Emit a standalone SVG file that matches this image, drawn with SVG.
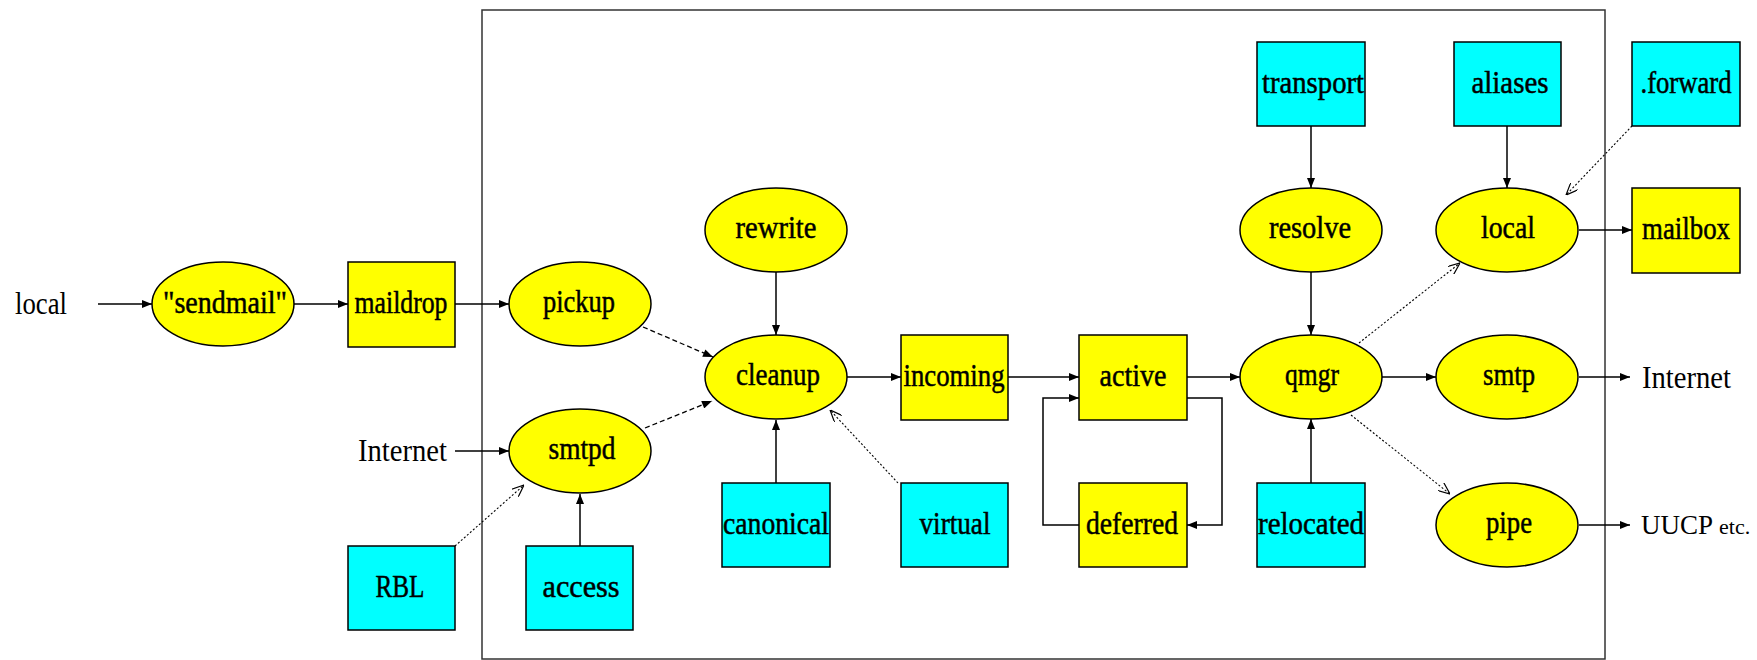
<svg xmlns="http://www.w3.org/2000/svg" width="1757" height="660" viewBox="0 0 1757 660">
<defs>
<style>
.bg{fill:#fff}
.frame{fill:none;stroke:#333;stroke-width:1.5}
.proc{fill:#ffff00;stroke:#000;stroke-width:1.5}
.file{fill:#ffff00;stroke:#000;stroke-width:1.5}
.table{fill:#00ffff;stroke:#000;stroke-width:1.5}
.lbl{font-family:"Liberation Serif","Times New Roman",serif;font-size:32px;fill:#000;stroke:#000;stroke-width:0.5;text-anchor:middle}
.out{font-family:"Liberation Serif","Times New Roman",serif;font-size:32px;fill:#000}
.edge{fill:none;stroke:#000;stroke-width:1.5}
.dash{fill:none;stroke:#000;stroke-width:1.3;stroke-dasharray:5 3}
.dot{fill:none;stroke:#000;stroke-width:1.1;stroke-dasharray:2 2}
</style>
<marker id="a" viewBox="0 0 10 8" refX="10" refY="4" markerWidth="11" markerHeight="8" markerUnits="userSpaceOnUse" orient="auto">
<path d="M0,0 L10,4 L0,8 Z" fill="#000"/>
</marker>
<marker id="o" viewBox="0 0 12 10" refX="12" refY="5" markerWidth="12" markerHeight="10" markerUnits="userSpaceOnUse" orient="auto">
<path d="M0,0 L12,5 L0,10" fill="none" stroke="#000" stroke-width="1.2"/>
</marker>
</defs>
<rect class="bg" x="0" y="0" width="1757" height="660"/>
<rect id="frame" class="frame" x="482" y="10" width="1123" height="649"/>

<g id="connectors">
<path class="edge" d="M98,304 H152" marker-end="url(#a)"/>
<path class="edge" d="M294,304 H348" marker-end="url(#a)"/>
<path class="edge" d="M455,304 H509" marker-end="url(#a)"/>
<path class="edge" d="M455,451 H509" marker-end="url(#a)"/>
<path class="dash" d="M643,327 L713,357" marker-end="url(#a)"/>
<path class="dash" d="M645,428 L712,401" marker-end="url(#a)"/>
<path class="dot" d="M455,546 L524,485" marker-end="url(#o)"/>
<path class="edge" d="M580,546 V494" marker-end="url(#a)"/>
<path class="edge" d="M776,272 V335" marker-end="url(#a)"/>
<path class="edge" d="M776,483 V420" marker-end="url(#a)"/>
<path class="dot" d="M898,483 L830,410" marker-end="url(#o)"/>
<path class="edge" d="M847,377 H901" marker-end="url(#a)"/>
<path class="edge" d="M1008,377 H1079" marker-end="url(#a)"/>
<path class="edge" d="M1187,377 H1240" marker-end="url(#a)"/>
<path class="edge" d="M1187,398 H1222 V525 H1187" marker-end="url(#a)"/>
<path class="edge" d="M1079,525 H1043 V398 H1079" marker-end="url(#a)"/>
<path class="edge" d="M1311,126 V188" marker-end="url(#a)"/>
<path class="edge" d="M1311,272 V335" marker-end="url(#a)"/>
<path class="edge" d="M1311,483 V419" marker-end="url(#a)"/>
<path class="edge" d="M1507,126 V188" marker-end="url(#a)"/>
<path class="dot" d="M1632,126 L1566,195" marker-end="url(#o)"/>
<path class="dot" d="M1359,343 L1460,263" marker-end="url(#o)"/>
<path class="edge" d="M1579,230 H1632" marker-end="url(#a)"/>
<path class="edge" d="M1382,377 H1436" marker-end="url(#a)"/>
<path class="dot" d="M1351,415 L1450,494" marker-end="url(#o)"/>
<path class="edge" d="M1579,377 H1630" marker-end="url(#a)"/>
<path class="edge" d="M1579,525 H1630" marker-end="url(#a)"/>
</g>

<g id="label-local-in"><text class="out" x="15" y="314" textLength="52" lengthAdjust="spacingAndGlyphs">local</text></g>
<g id="label-internet-in"><text class="out" x="358" y="461" textLength="89" lengthAdjust="spacingAndGlyphs">Internet</text></g>
<g id="label-internet-out"><text class="out" x="1642" y="388" textLength="89" lengthAdjust="spacingAndGlyphs">Internet</text></g>
<g id="label-uucp"><text class="out" x="1641" y="534" style="font-size:27px">UUCP<tspan x="1719" style="font-size:22px">etc.</tspan></text></g>

<g id="sendmail"><ellipse class="proc" cx="223" cy="304" rx="71" ry="42"/><text class="lbl" x="225" y="313" textLength="124" lengthAdjust="spacingAndGlyphs">"sendmail"</text></g>
<g id="maildrop"><rect class="file" x="348" y="262" width="107" height="85"/><text class="lbl" x="401" y="313" textLength="93" lengthAdjust="spacingAndGlyphs">maildrop</text></g>
<g id="pickup"><ellipse class="proc" cx="580" cy="304" rx="71" ry="42"/><text class="lbl" x="579" y="312" textLength="72" lengthAdjust="spacingAndGlyphs">pickup</text></g>
<g id="smtpd"><ellipse class="proc" cx="580" cy="451" rx="71" ry="42"/><text class="lbl" x="582" y="459" textLength="67" lengthAdjust="spacingAndGlyphs">smtpd</text></g>
<g id="RBL"><rect class="table" x="348" y="546" width="107" height="84"/><text class="lbl" x="400" y="597" textLength="49" lengthAdjust="spacingAndGlyphs">RBL</text></g>
<g id="access"><rect class="table" x="526" y="546" width="107" height="84"/><text class="lbl" x="581" y="597" textLength="77" lengthAdjust="spacingAndGlyphs">access</text></g>
<g id="rewrite"><ellipse class="proc" cx="776" cy="230" rx="71" ry="42"/><text class="lbl" x="776" y="238" textLength="81" lengthAdjust="spacingAndGlyphs">rewrite</text></g>
<g id="cleanup"><ellipse class="proc" cx="776" cy="377" rx="71" ry="42"/><text class="lbl" x="778" y="385" textLength="84" lengthAdjust="spacingAndGlyphs">cleanup</text></g>
<g id="canonical"><rect class="table" x="722" y="483" width="108" height="84"/><text class="lbl" x="776" y="534" textLength="106" lengthAdjust="spacingAndGlyphs">canonical</text></g>
<g id="incoming"><rect class="file" x="901" y="335" width="107" height="85"/><text class="lbl" x="954" y="386" textLength="101" lengthAdjust="spacingAndGlyphs">incoming</text></g>
<g id="virtual"><rect class="table" x="901" y="483" width="107" height="84"/><text class="lbl" x="955" y="534" textLength="71" lengthAdjust="spacingAndGlyphs">virtual</text></g>
<g id="active"><rect class="file" x="1079" y="335" width="108" height="85"/><text class="lbl" x="1133" y="386" textLength="67" lengthAdjust="spacingAndGlyphs">active</text></g>
<g id="deferred"><rect class="file" x="1079" y="483" width="108" height="84"/><text class="lbl" x="1132" y="534" textLength="92" lengthAdjust="spacingAndGlyphs">deferred</text></g>
<g id="transport"><rect class="table" x="1257" y="42" width="108" height="84"/><text class="lbl" x="1313" y="93" textLength="102" lengthAdjust="spacingAndGlyphs">transport</text></g>
<g id="resolve"><ellipse class="proc" cx="1311" cy="230" rx="71" ry="42"/><text class="lbl" x="1310" y="238" textLength="82" lengthAdjust="spacingAndGlyphs">resolve</text></g>
<g id="qmgr"><ellipse class="proc" cx="1311" cy="377" rx="71" ry="42"/><text class="lbl" x="1312" y="385" textLength="54" lengthAdjust="spacingAndGlyphs">qmgr</text></g>
<g id="relocated"><rect class="table" x="1257" y="483" width="108" height="84"/><text class="lbl" x="1311" y="534" textLength="106" lengthAdjust="spacingAndGlyphs">relocated</text></g>
<g id="aliases"><rect class="table" x="1454" y="42" width="107" height="84"/><text class="lbl" x="1510" y="93" textLength="77" lengthAdjust="spacingAndGlyphs">aliases</text></g>
<g id="local"><ellipse class="proc" cx="1507" cy="230" rx="71" ry="42"/><text class="lbl" x="1508" y="238" textLength="54" lengthAdjust="spacingAndGlyphs">local</text></g>
<g id="smtp"><ellipse class="proc" cx="1507" cy="377" rx="71" ry="42"/><text class="lbl" x="1509" y="385" textLength="52" lengthAdjust="spacingAndGlyphs">smtp</text></g>
<g id="pipe"><ellipse class="proc" cx="1507" cy="525" rx="71" ry="42"/><text class="lbl" x="1509" y="533" textLength="46" lengthAdjust="spacingAndGlyphs">pipe</text></g>
<g id="forward"><rect class="table" x="1632" y="42" width="108" height="84"/><text class="lbl" x="1686" y="93" textLength="91" lengthAdjust="spacingAndGlyphs">.forward</text></g>
<g id="mailbox"><rect class="file" x="1632" y="188" width="108" height="85"/><text class="lbl" x="1686" y="239" textLength="88" lengthAdjust="spacingAndGlyphs">mailbox</text></g>
</svg>
